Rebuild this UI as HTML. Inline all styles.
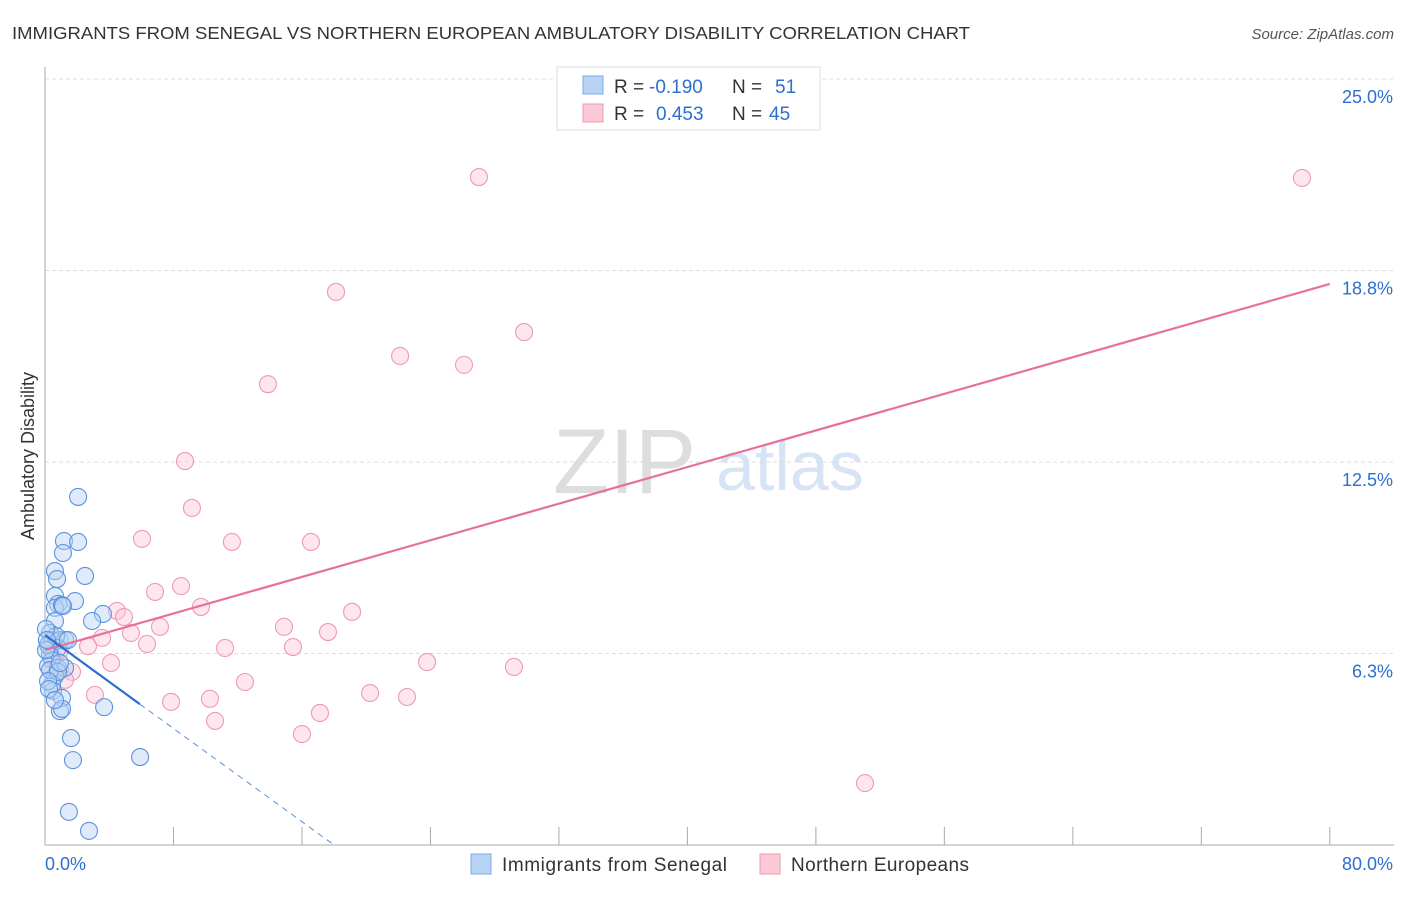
<!DOCTYPE html>
<html><head><meta charset="utf-8"><style>
body{margin:0;background:#fff;font-family:"Liberation Sans",sans-serif}
svg text{font-family:"Liberation Sans",sans-serif}
</style></head><body>
<svg id="c" width="1406" height="892">
<text x="12" y="39" font-size="17.5" fill="#333" textLength="958" lengthAdjust="spacingAndGlyphs">IMMIGRANTS FROM SENEGAL VS NORTHERN EUROPEAN AMBULATORY DISABILITY CORRELATION CHART</text>
<text x="1394" y="39" font-size="15" fill="#555" font-style="italic" text-anchor="end">Source: ZipAtlas.com</text>
<g><text x="553" y="493" font-size="92" fill="#ddd" font-family="Liberation Serif">ZIP</text><text x="716" y="490" font-size="70" fill="#d6e4f5">atlas</text></g>
<g id="grid"></g><g id="axes"></g><g id="pts"></g><g id="lines"></g>
<text transform="translate(34,456) rotate(-90)" font-size="18" fill="#333" text-anchor="middle">Ambulatory Disability</text>
<g>
<rect x="557" y="67" width="263" height="63" fill="#fff" stroke="#ddd"/>
<rect x="583" y="76" width="20" height="18" fill="#b9d3f5" stroke="#7aa8e6"/>
<rect x="583" y="104" width="20" height="18" fill="#fbc8d6" stroke="#ee9ab2"/>
<text x="614" y="93" font-size="19" fill="#333">R =</text>
<text x="649" y="93" font-size="19" fill="#2d6fd0">-0.190</text>
<text x="732" y="93" font-size="19" fill="#333">N =</text>
<text x="775" y="93" font-size="19" fill="#2d6fd0">51</text>
<text x="614" y="120" font-size="19" fill="#333">R =</text>
<text x="656" y="120" font-size="19" fill="#2d6fd0">0.453</text>
<text x="732" y="120" font-size="19" fill="#333">N =</text>
<text x="769" y="120" font-size="19" fill="#2d6fd0">45</text>
</g>
<g>
<rect x="471" y="854" width="20" height="20" fill="#b9d3f5" stroke="#7aa8e6"/>
<text x="502" y="871" font-size="19" fill="#333" textLength="225">Immigrants from Senegal</text>
<rect x="760" y="854" width="20" height="20" fill="#fbc8d6" stroke="#ee9ab2"/>
<text x="791" y="871" font-size="19" fill="#333" textLength="178">Northern Europeans</text>
</g>
<text x="45" y="870" font-size="18" fill="#2d6fd0">0.0%</text>
<text x="1393" y="870" font-size="18" fill="#2d6fd0" text-anchor="end">80.0%</text>
</svg>
<script>
const yTicks=[25.0,18.75,12.5,6.25];
const yTickLabels=["25.0%","18.8%","12.5%","6.3%"];
const xTicks=[0,8,16,24,32,40,48,56,64,72,80];
const blueX=[2.06,1.18,2.06,1.12,2.49,0.62,0.75,1.87,0.62,0.81,0.62,1.06,3.61,2.93,0.62,0.31,0.44,0.93,1.25,0.31,0.81,0.31,0.44,0.19,0.81,1.25,0.62,0.44,0.50,1.06,3.68,0.93,1.06,1.62,1.74,5.92,1.49,2.74,0.19,0.06,0.69,1.43,0.31,0.81,0.93,0.19,1.12,0.06,0.25,0.62,0.12];
const blueY=[11.36,9.92,9.89,9.53,8.78,8.94,8.68,7.96,8.13,7.87,7.74,7.83,7.54,7.31,7.31,6.92,6.69,6.69,6.69,6.43,6.43,6.2,6.04,5.84,5.78,5.78,5.52,5.25,5.03,4.80,4.50,4.37,4.44,3.49,2.77,2.87,1.08,0.46,6.53,6.36,6.82,6.69,5.71,5.65,5.94,5.35,7.80,7.05,5.09,4.73,6.69];
const pinkX=[27.02,78.27,18.12,29.83,22.11,26.09,13.88,8.72,9.15,6.04,11.64,16.56,8.47,6.85,9.71,4.48,4.92,19.12,7.16,14.88,5.35,17.62,3.55,6.35,2.68,11.21,15.44,23.79,29.20,4.11,1.68,0.93,12.45,3.11,10.27,7.85,20.24,22.54,17.12,10.59,16.00,51.06,0.93,0.62,1.25];
const pinkY=[21.80,21.77,18.05,16.74,15.96,15.67,15.04,12.53,11.00,9.99,9.89,9.89,8.45,8.26,7.77,7.64,7.44,7.61,7.12,7.12,6.92,6.95,6.76,6.56,6.49,6.43,6.46,5.97,5.81,5.94,5.65,5.71,5.32,4.90,4.77,4.67,4.96,4.83,4.31,4.05,3.62,2.02,6.36,6.04,5.39];
const blueTrend=[[0,6.85],[5.9,4.6]];
const blueTrendDash=[[5.9,4.6],[18.0,0]];
const pinkTrend=[[0,6.36],[80,18.31]];
const X=v=>45+v*16.06, Y=v=>845-v*30.64;
const NS="http://www.w3.org/2000/svg";
function mk(t,a,p){const e=document.createElementNS(NS,t);for(const k in a)e.setAttribute(k,a[k]);p.appendChild(e);return e;}
const grid=document.getElementById('grid'),axes=document.getElementById('axes'),pts=document.getElementById('pts'),lines=document.getElementById('lines');
yTicks.forEach((v,i)=>{
 const l=mk('line',{x1:45,x2:1394,y1:Y(v),y2:Y(v),stroke:'#ddd','stroke-dasharray':'4,3'},grid);
 
 
 const t=mk('text',{x:1393,y:Y(v)+24,'font-size':18,fill:'#2d6fd0','text-anchor':'end'},axes);
 t.textContent=yTickLabels[i];
 
 
});
const ax=mk('path',{d:'M45,67V845H1394',fill:'none',stroke:'#aaa'},axes);


xTicks.forEach(v=>{
 const t=mk('line',{x1:X(v),x2:X(v),y1:827,y2:845,stroke:'#aaa'},axes);
 
 
});
function dots(xs,ys,fill,stroke,name){xs.forEach((x,i)=>{
 const c=mk('circle',{cx:X(x),cy:Y(ys[i]),r:8.5,fill:fill,'fill-opacity':0.45,stroke:stroke,'stroke-width':1.1},pts);
 
 
});}
dots(pinkX,pinkY,'#fbc8d6','#ee9ab2','northern-point');
dots(blueX,blueY,'#b9d3f5','#5c93de','senegal-point');
function ln(p,col,w,dash,name){const l=mk('line',{x1:X(p[0][0]),y1:Y(p[0][1]),x2:X(p[1][0]),y2:Y(p[1][1]),stroke:col,'stroke-width':w},lines);
 if(dash)l.setAttribute('stroke-dasharray',dash);
 
 }
ln(pinkTrend,'#e8709a',2.2,null,'northern-trendline');
ln(blueTrend,'#2d6fd0',2.2,null,'senegal-trendline');
ln(blueTrendDash,'#5c93de',1,'6,5','senegal-trendline-extension');
</script>
</body></html>
